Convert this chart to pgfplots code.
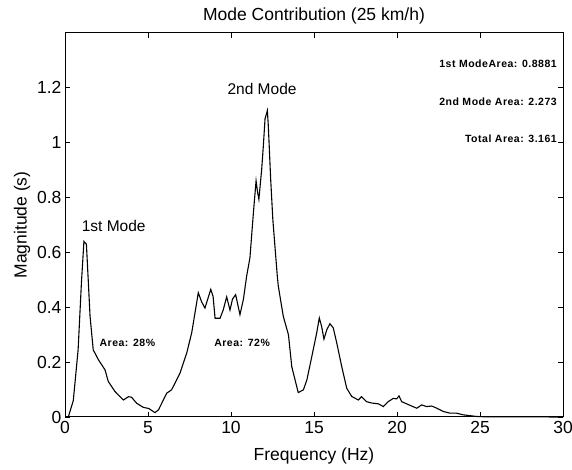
\documentclass[border=0pt]{standalone}
\usepackage{pgfplots}
\pgfplotsset{compat=1.18}
\usepackage{fontspec}
\setmainfont{Liberation Sans}
\newfontfamily\smallbold[LetterSpace=5]{Liberation Sans Bold}
\begin{document}
\begin{tikzpicture}
\useasboundingbox (-65pt,-53pt) rectangle (507pt,417pt);
\begin{axis}[
  at={(0pt,0pt)}, anchor=south west,
  scale only axis, width=498pt, height=384pt,
  xmin=0, xmax=30, ymin=0, ymax=1.4,
  xtick={0,5,10,15,20,25,30},
  ytick={0,0.2,0.4,0.6,0.8,1,1.2},
  yticklabels={0,0.2,0.4,0.6,0.8,1,1.2},
  /pgf/number format/assume math mode=true,
  tick label style={font=\fontsize{17.5}{20}\selectfont},
  xticklabel style={yshift=-1pt},
  label style={font=\fontsize{17.5}{20}\selectfont},
  xlabel style={yshift=-7pt},
  title style={font=\fontsize{17.5}{20}\selectfont, yshift=-1pt},
  title={Mode Contribution (25 km/h)},
  xlabel={Frequency (Hz)},
  ylabel={Magnitude (s)},
  major tick length=5pt,
  tick style={black, line width=0.9pt},
  axis line style={line width=1pt},
  clip=false,
]
\addplot[black, line width=1.1pt] coordinates {
(0,0) (0.2,0) (0.5,0.06) (0.79,0.245) (0.99,0.49) (1.14,0.64) (1.29,0.63)
(1.51,0.367) (1.70,0.245) (2.01,0.209) (2.41,0.172) (2.61,0.129) (3.01,0.093)
(3.52,0.062) (3.82,0.074) (4.01,0.072) (4.32,0.05) (4.72,0.035) (5.05,0.031)
(5.42,0.016) (5.63,0.026) (6.13,0.087) (6.42,0.099) (6.93,0.16) (7.33,0.233)
(7.63,0.306) (8.03,0.453) (8.23,0.42) (8.43,0.397) (8.78,0.465) (8.92,0.44)
(9.04,0.36) (9.34,0.36) (9.53,0.39) (9.74,0.438) (9.94,0.39) (10.09,0.43)
(10.28,0.446) (10.54,0.373) (10.75,0.43) (10.94,0.513) (11.14,0.58) (11.35,0.745)
(11.51,0.861) (11.6,0.82) (11.68,0.794) (11.85,0.904) (11.95,0.99) (12.05,1.087)
(12.19,1.117) (12.24,1.07) (12.31,0.977) (12.39,0.867) (12.52,0.72) (12.65,0.62)
(12.79,0.513) (12.85,0.477) (13.15,0.367) (13.46,0.3) (13.66,0.184) (13.86,0.135)
(14.05,0.089) (14.36,0.099) (14.57,0.135) (14.87,0.221) (15.16,0.306) (15.32,0.361)
(15.46,0.33) (15.6,0.284) (15.77,0.318) (15.96,0.34) (16.16,0.325) (16.37,0.27)
(16.67,0.184) (16.97,0.105) (17.27,0.075) (17.67,0.062) (17.86,0.074) (18.16,0.056)
(18.47,0.051) (18.88,0.048) (19.18,0.038) (19.47,0.056) (19.78,0.068) (19.98,0.066)
(20.12,0.077) (20.28,0.056) (20.58,0.048) (20.88,0.04) (21.19,0.032) (21.48,0.044)
(21.79,0.038) (22.09,0.04) (22.4,0.032) (22.79,0.02) (23.19,0.014) (23.59,0.014)
(23.98,0.008) (24.38,0.005) (24.78,0.002) (25.2,0.001) (30,0)
};
\node[anchor=west, font=\fontsize{15.5}{18}\selectfont, inner sep=0pt] at (axis cs:1.0,0.696) {1st Mode};
\node[anchor=center, font=\fontsize{15.5}{18}\selectfont, inner sep=0pt] at (axis cs:11.87,1.196) {2nd Mode};
\node[anchor=west, font=\smallbold\fontsize{10.5}{12}\selectfont, inner sep=0pt] at (axis cs:2.07,0.272) {Area: 28\%};
\node[anchor=west, font=\smallbold\fontsize{10.5}{12}\selectfont, inner sep=0pt] at (axis cs:8.98,0.272) {Area: 72\%};
\node[anchor=east, font=\smallbold\fontsize{10.5}{12}\selectfont, inner sep=0pt] at (axis cs:29.64,1.288) {1st ModeArea: 0.8881};
\node[anchor=east, font=\smallbold\fontsize{10.5}{12}\selectfont, inner sep=0pt] at (axis cs:29.64,1.148) {2nd Mode Area: 2.273};
\node[anchor=east, font=\smallbold\fontsize{10.5}{12}\selectfont, inner sep=0pt] at (axis cs:29.64,1.013) {Total Area: 3.161};
\end{axis}
\end{tikzpicture}
\end{document}
